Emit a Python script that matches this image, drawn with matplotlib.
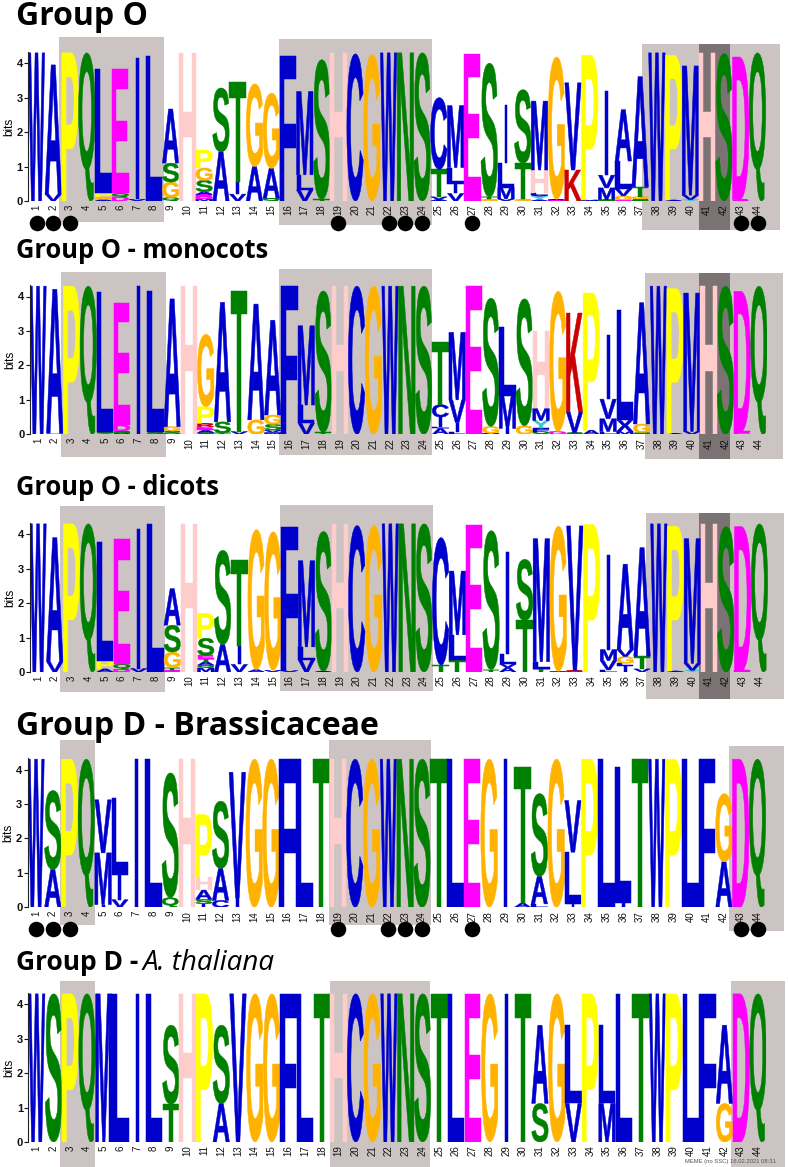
#!/usr/bin/env python3
"""Sequence logos of the Group O / Group D motif, with conserved blocks shaded."""

from matplotlib import pyplot as plt
from matplotlib.font_manager import FontProperties
from matplotlib.patches import PathPatch, Rectangle
from matplotlib.textpath import TextPath
from matplotlib.transforms import Affine2D

POSITIONS = list(range(1, 45))
BIT_TICKS = [0, 1, 2, 3, 4]
MOTIF_POSITIONS = [1, 2, 3, 19, 22, 23, 24, 27, 43, 44]

# one string per column, letters stacked from the bottom up as letter+bits
GROUP_O = [
    "W4.3", "V.2 A3.75", "P4.3", "Q4.3", "A.05 G.07 P.1 L3.62", "D.12 Q.1 E3.6", "V.05 I4.1", "L4.22",
    "Q.1 G.45 S.55 A1.57", "H4.3", "M.06 D.07 E.06 A.08 S.33 G.36 P.52", "A1.43 S1.85", "V.2 I.36 T2.9",
    "A1.0 G2.4", "Q.08 A.87 G2.18", "F4.22", "V.32 L.44 M2.42", "T.05 S4.05", "H4.3", "C4.27", "G4.25", "W4.3",
    "N4.3", "S4.3", "A.05 V.07 T.8 C2.08", "V.22 I.28 L.47 M1.8", "E4.28", "G.05 T.07 S3.88",
    "V.06 M.33 L.7 I1.7", "G.05 T1.05 S2.13", "A.04 Y.1 V.03 L.07 H.66 M2.0", "E.03 A.02 G4.13", "K.9 V2.53",
    "M.03 P4.2", "S.04 M.34 V.37 I2.43", "D.03 G.12 V.2 L.81 A1.49", "S.06 G.07 T.28 A3.2", "W4.3", "A.03 P4.2",
    "Y.04 V.13 M3.75", "H4.3", "S4.28", "E.04 D4.14", "Q4.3",
]
GROUP_O_MONOCOTS = [
    "W4.3", "G.03 A4.18", "P4.3", "Q4.3", "P.03 S.04 L4.06", "V.03 S.07 D.17 E3.55", "I4.3", "S.08 L4.07",
    "S.1 G.12 A3.71", "H4.3", "S.05 A.08 E.09 R.1 P.48 G2.1", "T.04 S.32 A3.47", "V.08 T4.07", "G.42 A3.36",
    "M.05 V.07 S.17 G.27 A2.75", "F4.3", "V.32 L.53 M2.3", "T.06 S4.1", "H4.3", "C4.3", "G4.3", "W4.3",
    "N4.3", "S4.3", "A.17 L.05 I.28 C.36 T1.82", "L.07 I.27 V.66 M1.96", "E4.3", "M.03 G.2 S3.72",
    "I.17 M.95 L2.0", "G.25 S3.68", "Q.08 F.1 Y.22 M.35 H2.25", "D.08 G4.07", "S.05 V.6 K2.87", "A.12 P3.98",
    "L.08 M.37 V.57 I1.87", "M.08 X.33 L3.21", "S.05 G.25 A3.52", "W4.3", "A.03 P4.2", "V.08 M4.02", "H4.3",
    "S4.3", "E.09 D4.06", "Q4.3",
]
GROUP_O_DICOTS = [
    "W4.3", "V.3 A3.6", "P4.3", "Q4.3", "A.09 P.24 L3.43", "D.08 Q.15 E3.62", "V.1 I4.04", "L4.3",
    "E.05 T.08 G.45 S.78 A1.06", "H4.3", "M.12 Q.08 A.1 T.08 E.1 S.5 P.72", "A.8 S2.73", "V.22 I.53 T2.5",
    "A.07 G4.06", "V.05 G4.02", "V.04 F4.18", "V.35 L.38 M2.5", "A.03 S4.05", "H4.3", "C4.25", "G4.25", "W4.3",
    "N4.3", "S4.3", "T.2 C3.7", "T.36 L.72 M1.85", "E4.28", "T.07 S4.03", "A.13 V.1 L.3 I2.94", "T1.5 S1.77",
    "T.1 L.2 M3.57", "R.02 G4.21", "R.05 V4.19", "P4.28", "L.06 V.27 M.32 I2.74", "I.18 L.07 G.2 V.2 A2.48",
    "V.09 T.37 A3.15", "W4.3", "A.03 P4.2", "Y.05 V.2 M3.62", "H4.3", "S4.22", "E.05 D4.17", "Q4.3",
]
GROUP_D_BRASSICACEAE = [
    "W4.3", "A1.1 S2.29", "P4.3", "Q4.3", "I.08 M1.5 V1.54", "V.22 I.72 L2.24", "I4.3", "L4.3", "Q.28 S3.62",
    "H4.3", "I.1 S.13 A.27 H.38 P1.81", "C.2 A.93 S1.95", "I.27 V3.65", "G4.3", "G4.3", "F4.3", "L4.3", "T4.3",
    "H4.3", "C4.3", "G4.3", "W4.3", "N4.3", "S4.3", "T4.3", "L4.3", "E4.3", "G4.3", "I4.3", "A.12 T3.95",
    "L.1 A.8 S2.4", "G4.3", "I.1 L1.5 V1.5", "P4.3", "L4.3", "I.12 L3.95", "T4.3", "W4.3", "P4.3", "L4.3",
    "F4.3", "A1.32 G1.98", "D4.3", "Q4.3",
]
GROUP_D_THALIANA = [
    "W4.3", "S4.3", "P4.3", "Q4.3", "M4.3", "L4.3", "I4.3", "L4.3", "T1.1 S2.29", "H4.3", "P4.3", "A1.12 S2.27",
    "V4.3", "G4.3", "G4.3", "F4.3", "L4.3", "T4.3", "H4.3", "C4.3", "G4.3", "W4.3", "N4.3", "S4.3", "T4.3",
    "L4.3", "E4.3", "G4.3", "I4.3", "T4.3", "S1.12 A2.27", "G4.3", "V1.12 L2.27", "P4.3", "M1.12 L2.27", "L4.3",
    "T4.3", "W4.3", "P4.3", "L4.3", "F4.3", "G1.12 A2.27", "D4.3", "Q4.3",
]

BLUE, GREEN, MAGENTA = "#0000cc", "#008000", "#ff00ff"
LETTER_COLORS = {
    "A": BLUE, "C": BLUE, "F": BLUE, "I": BLUE, "L": BLUE, "M": BLUE, "V": BLUE, "W": BLUE, "X": BLUE,
    "N": GREEN, "Q": GREEN, "S": GREEN, "T": GREEN,
    "D": MAGENTA, "E": MAGENTA,
    "K": "#cc0000", "R": "#cc0000",
    "G": "#ffb300", "P": "#ffff00", "H": "#ffcccc", "Y": "#33cccc",
}
BAND_COLOR = "#ccc3c3"
DARK_BAND_COLOR = "#7b7373"

WIDTH, HEIGHT = 788, 1167
TOP_BITS = 4.32
BITS_PX = 34.45
LOGO_FONT = FontProperties(family="Liberation Sans", weight="bold")

# pixel layout: first/last column centre, zero line, bands as x0, x1, y0, y1
PANELS = [
    {"columns": GROUP_O, "first": 36.5, "last": 757.5, "zero": 201.0, "dots": True,
     "bands": [(59.3, 164.3, 36.7, 221.7), (279, 432, 39.3, 225), (642, 780, 44.3, 230)],
     "dark": (699, 730, 44.3, 230)},
    {"columns": GROUP_O_MONOCOTS, "first": 38.0, "last": 759.0, "zero": 434.3, "dots": False,
     "bands": [(61.3, 166.3, 271.7, 457.3), (279, 432, 269.3, 455.3), (645, 782.7, 273.3, 459.3)],
     "dark": (699, 730, 273.3, 459.3)},
    {"columns": GROUP_O_DICOTS, "first": 38.0, "last": 759.5, "zero": 672.0, "dots": False,
     "bands": [(60, 165, 506, 691.7), (280.3, 433.3, 505.3, 691), (646, 784, 512.7, 698.7)],
     "dark": (699, 730, 512.7, 699)},
    {"columns": GROUP_D_BRASSICACEAE, "first": 36.0, "last": 757.5, "zero": 907.3, "dots": True,
     "bands": [(60, 94.7, 740, 925.3), (329.3, 431.3, 740, 925.3), (729, 784, 746, 931.3)],
     "dark": None},
    {"columns": GROUP_D_THALIANA, "first": 36.7, "last": 758.0, "zero": 1142.0, "dots": False,
     "bands": [(60, 94.7, 980.7, 1167), (330, 430, 980.7, 1167), (731, 785, 980.7, 1167)],
     "dark": None},
]

TITLES = [
    ("Group O", 16, 25, 23),
    ("Group O - monocots", 16, 258, 18.4),
    ("Group O - dicots", 16, 495, 18.4),
    ("Group D - Brassicaceae", 16, 735, 23),
    ("Group D - ", 16, 970, 19),
]


def parse_column(column):
    return [(token[0], float(token[1:])) for token in column.split()]


def draw_letter(ax, letter, center, bottom, height):
    # MEME stretches each glyph into its cell, I stays a thin bar
    width = 0.17 if letter == "I" else 0.98
    color = LETTER_COLORS[letter]
    path = TextPath((0, 0), letter, size=1, prop=LOGO_FONT)
    box = path.get_extents()
    to_cell = (
        Affine2D()
        .translate(-box.x0, -box.y0)
        .scale(width / box.width, height / box.height)
        .translate(center - width / 2, bottom)
    )
    ax.add_patch(PathPatch(to_cell.transform_path(path), facecolor=color, edgecolor=color, linewidth=0.35))


def draw_logo(fig, panel):
    step = (panel["last"] - panel["first"]) / 43
    left = panel["first"] - step / 2
    ax = fig.add_axes(
        [
            left / WIDTH,
            1 - panel["zero"] / HEIGHT,
            step * 44 / WIDTH,
            TOP_BITS * BITS_PX / HEIGHT,
        ]
    )
    ax.patch.set_visible(False)
    ax.set_xlim(0.5, 44.5)
    ax.set_ylim(0, TOP_BITS)

    for position, column in zip(POSITIONS, panel["columns"]):
        bottom = 0.0
        for letter, bits in parse_column(column):
            draw_letter(ax, letter, position, bottom, bits)
            bottom += bits

    if panel["dots"]:
        ax.scatter(MOTIF_POSITIONS, [-0.64] * len(MOTIF_POSITIONS), s=125, color="black",
                   linewidths=0, clip_on=False, zorder=5)

    for side in ["top", "right", "bottom"]:
        ax.spines[side].set_visible(False)
    ax.spines["left"].set_linewidth(0.8)
    ax.spines["left"].set_color("#222222")
    ax.set_xticks(POSITIONS)
    ax.set_xticklabels(POSITIONS, rotation=90, fontsize=7, family="Liberation Sans", va="top", ha="center")
    ax.tick_params(axis="x", length=0, pad=2.5, colors="#111111")
    ax.set_yticks(BIT_TICKS)
    ax.set_yticklabels(BIT_TICKS, fontsize=8, family="Liberation Sans", weight="bold")
    ax.tick_params(axis="y", length=2.8, width=0.8, pad=1, colors="#111111")
    ax.set_ylabel("bits", fontsize=8.5, family="Liberation Sans", labelpad=1)
    return ax


def main():
    fig = plt.figure(figsize=(WIDTH / 100, HEIGHT / 100), dpi=100)
    page = fig.add_axes([0, 0, 1, 1])
    page.set_xlim(0, WIDTH)
    page.set_ylim(HEIGHT, 0)
    page.axis("off")

    for panel in PANELS:
        for x0, x1, y0, y1 in panel["bands"]:
            page.add_patch(Rectangle((x0, y0), x1 - x0, y1 - y0, facecolor=BAND_COLOR, linewidth=0))
        if panel["dark"]:
            x0, x1, y0, y1 = panel["dark"]
            page.add_patch(Rectangle((x0, y0), x1 - x0, y1 - y0, facecolor=DARK_BAND_COLOR, linewidth=0))
        draw_logo(fig, panel)

    for label, x, y, size in TITLES:
        page.text(x, y, label, fontsize=size, family="Open Sans", weight="bold", va="baseline", color="black")
    page.text(143, 970, "A. thaliana", fontsize=20, family="Open Sans", style="italic", va="baseline", color="black")
    page.text(685, 1161.7, "MEME (no SSC) 16.02.2021 08:31", fontsize=4.2, family="Liberation Sans",
              va="center", color="#555555")

    fig.savefig("out.png", dpi=100)
    plt.close(fig)


if __name__ == "__main__":
    main()
